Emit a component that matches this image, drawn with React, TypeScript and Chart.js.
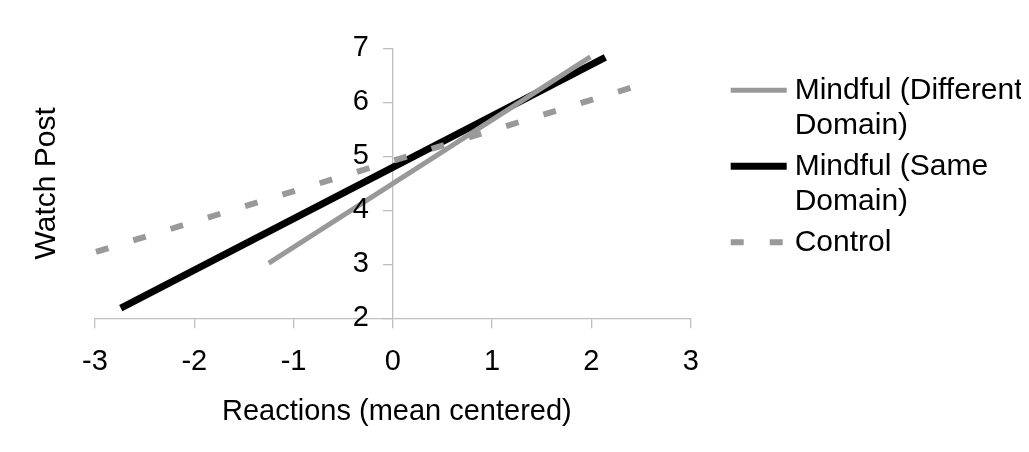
import React, { useEffect, useRef } from "react";
import { Chart, registerables } from "chart.js";

Chart.register(...registerables);

// ---- data ----
const legendLabels: string[][] = [["Mindful (Different", "Domain)"], ["Mindful (Same", "Domain)"], ["Control"]];
const seriesNames = ["Mindful (Different Domain)", "Mindful (Same Domain)", "Control"];
const differentX = [-1.25, 1.99];
const differentY = [3.02, 6.84];
const sameX = [-2.74, 2.14];
const sameY = [2.19, 6.83];
const controlX = [-2.99, 2.4];
const controlY = [3.23, 6.27];
const xTicks = [-3, -2, -1, 0, 1, 2, 3];
const yTicks = [2, 3, 4, 5, 6, 7];
const xTitle = "Reactions (mean centered)";
const yTitle = "Watch Post";

const FONT = "'Liberation Sans', Arial, sans-serif";
const GRAY = "#999999";
const AXIS = "#bfbfbf";

const toPts = (xs: number[], ys: number[]) => xs.map((x, i) => ({ x, y: ys[i] }));

const customPlugin = {
  id: "customText",
  afterDraw(chart: any) {
    const { ctx, chartArea, scales } = chart;
    ctx.save();
    ctx.fillStyle = "#000";

    // y tick labels (left of the centred y axis)
    const axisX = scales.x.getPixelForValue(0);
    ctx.font = `29px ${FONT}`;
    ctx.textAlign = "right";
    ctx.textBaseline = "middle";
    yTicks.forEach((v) => {
      ctx.fillText(String(v), axisX - 24, scales.y.getPixelForValue(v));
    });

    // axis titles
    ctx.textAlign = "center";
    ctx.font = `29px ${FONT}`;
    ctx.fillText(xTitle, (chartArea.left + chartArea.right) / 2 + 4, chartArea.bottom + 94);
    ctx.save();
    ctx.font = `30px ${FONT}`;
    ctx.translate(chartArea.left - 48, (chartArea.top + chartArea.bottom) / 2);
    ctx.rotate(-Math.PI / 2);
    ctx.fillText(yTitle, 0, 0);
    ctx.restore();

    // legend
    const lx = chartArea.right + 40;
    const rows = [42, 118, 194];
    chart.data.datasets.forEach((ds: any, i: number) => {
      const cy = chartArea.top + rows[i];
      ctx.save();
      ctx.strokeStyle = ds.borderColor;
      ctx.lineWidth = ds.borderWidth;
      ctx.lineCap = "butt";
      ctx.setLineDash(ds.borderDash || []);
      ctx.beginPath();
      ctx.moveTo(lx, cy);
      ctx.lineTo(lx + 56, cy);
      ctx.stroke();
      ctx.restore();
      ctx.fillStyle = "#000";
      ctx.font = `30px ${FONT}`;
      ctx.textAlign = "left";
      ctx.textBaseline = "middle";
      legendLabels[i].forEach((t, j) => {
        ctx.fillText(t, lx + 64, cy + j * 35);
      });
    });
    ctx.restore();
  },
};

export default function App() {
  const ref = useRef<HTMLCanvasElement>(null);
  useEffect(() => {
    if (!ref.current) return;
    const chart = new Chart(ref.current, {
      type: "line",
      data: {
        datasets: [
          {
            label: seriesNames[0],
            data: toPts(differentX, differentY),
            borderColor: GRAY,
            backgroundColor: GRAY,
            borderWidth: 5,
            pointRadius: 0,
            order: 1,
            borderCapStyle: "butt",
          },
          {
            label: seriesNames[1],
            data: toPts(sameX, sameY),
            borderColor: "#000000",
            backgroundColor: "#000000",
            borderWidth: 7,
            pointRadius: 0,
            order: 2,
            borderCapStyle: "butt",
          },
          {
            label: seriesNames[2],
            data: toPts(controlX, controlY),
            borderColor: GRAY,
            backgroundColor: GRAY,
            borderWidth: 6,
            borderDash: [13, 26],
            pointRadius: 0,
            order: 0,
            borderCapStyle: "butt",
          },
        ],
      },
      options: {
        animation: false,
        responsive: false,
        maintainAspectRatio: false,
        layout: { padding: { left: 87, top: 40.3, right: 330.3, bottom: 125.7 } },
        plugins: { legend: { display: false }, tooltip: { enabled: false } },
        scales: {
          x: {
            type: "linear",
            position: { y: 2 } as any,
            min: -3,
            max: 3,
            afterBuildTicks: (s: any) => {
              s.ticks = xTicks.map((v) => ({ value: v }));
            },
            ticks: {
              color: "#000",
              font: { family: FONT, size: 29 },
              padding: 17,
              maxRotation: 0,
            },
            grid: { drawOnChartArea: false, drawTicks: true, tickLength: 9, color: AXIS, lineWidth: 1.3 },
            border: { display: true, color: AXIS, width: 1.3 },
          },
          y: {
            type: "linear",
            position: { x: 0 } as any,
            min: 2,
            max: 7,
            afterBuildTicks: (s: any) => {
              s.ticks = yTicks.map((v) => ({ value: v }));
            },
            ticks: { display: false },
            grid: { drawOnChartArea: false, drawTicks: true, tickLength: 9, color: AXIS, lineWidth: 1.3 },
            border: { display: true, color: AXIS, width: 1.3 },
          },
        },
      },
      plugins: [customPlugin],
    });
    return () => chart.destroy();
  }, []);
  return (
    <div style={{ width: 1013, height: 436, background: "#fff" }}>
      <canvas ref={ref} width={1013} height={436} style={{ display: "block" }} />
    </div>
  );
}
